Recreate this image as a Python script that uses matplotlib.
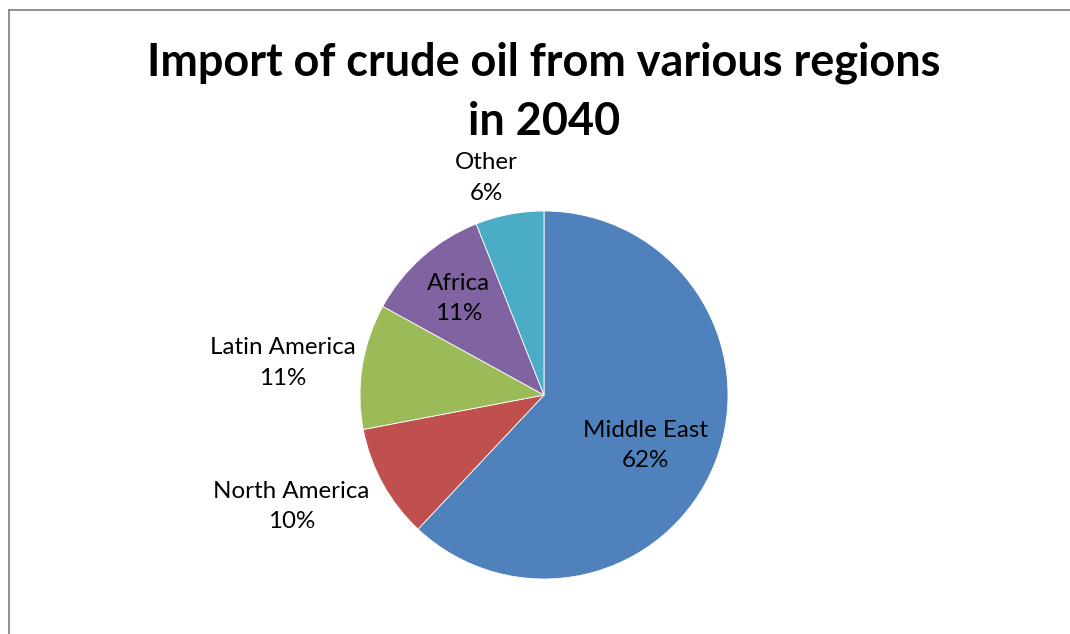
import matplotlib
matplotlib.use("Agg")
import matplotlib.pyplot as plt
import numpy as np
from matplotlib.lines import Line2D

categories = ["Middle East", "North America", "Latin America", "Africa", "Other"]
values = [62, 10, 11, 11, 6]
pct_labels = ["62%", "10%", "11%", "11%", "6%"]
colors = ["#4F81BD", "#C0504D", "#9BBB59", "#8064A2", "#4BACC6"]
title = "Import of crude oil from various regions\nin 2040"

# label placement (radius factor, angle adjustment in degrees)
label_r = [0.615, 1.50, 1.43, 0.70, 1.22]
label_da = [-5, -5, 2, 0, 4]

W, H = 1070, 634
fig = plt.figure(figsize=(W / 100, H / 100), dpi=100)
ax = fig.add_axes([0, 0, 1, 1])

cx, cy, R = 544, H - 395, 184
wedges, _ = ax.pie(values, colors=colors, startangle=90, counterclock=False,
                   center=(cx, cy), radius=R, frame=True,
                   wedgeprops=dict(edgecolor="white", linewidth=0.6))
ax.set_xlim(0, W)
ax.set_ylim(0, H)
ax.set_aspect("equal")
ax.axis("off")

font = "Lato"
for w, cat, p, rf, da in zip(wedges, categories, pct_labels, label_r, label_da):
    mid = np.deg2rad((w.theta1 + w.theta2) / 2 + da)
    x = cx + rf * R * np.cos(mid)
    y = cy + rf * R * np.sin(mid)
    ax.text(x, y, f"{cat}\n{p}", ha="center", va="center", fontsize=17.4,
            family=font, linespacing=1.55, color="#000000")

fig.text(544 / W, 1 - 92 / H, title, ha="center", va="center", fontsize=32.4,
         fontweight="bold", family=font, linespacing=1.49)

# chart border (left and top edges visible)
fig.add_artist(Line2D([9 / W, 9 / W], [0, 1 - 10 / H], transform=fig.transFigure,
                      color="#888888", linewidth=1.3))
fig.add_artist(Line2D([9 / W, 1], [1 - 10 / H, 1 - 10 / H], transform=fig.transFigure,
                      color="#888888", linewidth=1.3))

fig.savefig("out.png", dpi=100, facecolor="white")
